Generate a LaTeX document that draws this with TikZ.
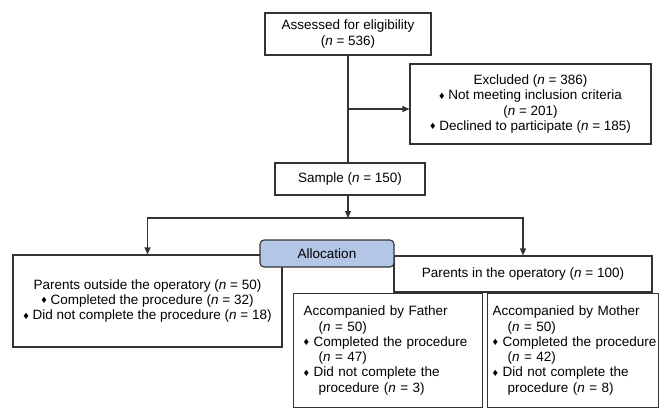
\documentclass[tikz,border=0pt]{standalone}
\usepackage{fontspec}
\setmainfont{Liberation Sans}
\usetikzlibrary{arrows.meta}
\definecolor{allocblue}{HTML}{B3C6E6}
\newcommand{\nn}{\textit{n}}
\newcommand{\dmd}{\raisebox{0.5pt}{\scalebox{0.8}{♦}}\ }
\newcommand{\ind}{\hspace*{15pt}}

\begin{document}
\begin{tikzpicture}[x=1pt, y=-1pt,
    every node/.style={font=\fontsize{13.5}{15.3}\selectfont},
    box/.style={draw=black!80, line width=1.1pt, inner sep=0pt, align=center},
    listbox/.style={box, align=left, anchor=north west},
    allocbox/.style={box, rounded corners=4pt, fill=allocblue},
    arr/.style={-{Triangle[length=7pt, width=6pt]}, line width=1.1pt, draw=black!80}
]
\useasboundingbox (0,0) rectangle (662,408);
\node[box, minimum width=166pt, minimum height=42pt] (assess) at (348,34)
    {Assessed for eligibility\\(\nn{} = 536)};
\node[box, minimum width=241pt, minimum height=80pt] (excl) at (530.5,104)
    {Excluded (\nn{} = 386)\\\dmd Not meeting inclusion criteria\\(\nn{} = 201)\\\dmd Declined to participate (\nn{} = 185)};
\node[box, minimum width=150pt, minimum height=32pt] (sample) at (350,179)
    {Sample (\nn{} = 150)};
\node[box, minimum width=269pt, minimum height=92pt] (outside) at (147.5,301)
    {Parents outside the operatory (\nn{} = 50)\\\dmd Completed the procedure (\nn{} = 32)\\\dmd Did not complete the procedure (\nn{} = 18)};
\node[box, minimum width=258pt, minimum height=36pt] (inside) at (523,274)
    {Parents in the operatory (\nn{} = 100)};
\node[allocbox, minimum width=134pt, minimum height=27pt] (alloc) at (327,253.5)
    {Allocation};
\node[listbox, minimum width=189pt, minimum height=114pt, inner xsep=10pt, text width=169pt] (father) at (293,293)
    {\mbox{Accompanied by Father}\\\mbox{\ind(\nn{} = 50)}\\\mbox{\dmd Completed the procedure}\\\mbox{\ind(\nn{} = 47)}\\\mbox{\dmd Did not complete the}\\\mbox{\ind procedure (\nn{} = 3)}};
\node[listbox, minimum width=171pt, minimum height=114pt, inner xsep=5pt, text width=161pt] (mother) at (487,293)
    {\mbox{Accompanied by Mother}\\\mbox{\ind(\nn{} = 50)}\\\mbox{\dmd Completed the procedure}\\\mbox{\ind(\nn{} = 42)}\\\mbox{\dmd Did not complete the}\\\mbox{\ind procedure (\nn{} = 8)}};

\coordinate (exclfork) at (348,109);
\coordinate (split) at (348,218);
\draw[line width=1.1pt, draw=black!80] (assess.south) -- (assess.south |- sample.north);
\draw[arr] (exclfork) -- (exclfork -| excl.west);
\draw[arr] (sample.south -| split) -- (split);
\draw[arr] (split) -| (outside.north);
\draw[arr] (split) -| (inside.north);
\end{tikzpicture}
\end{document}
